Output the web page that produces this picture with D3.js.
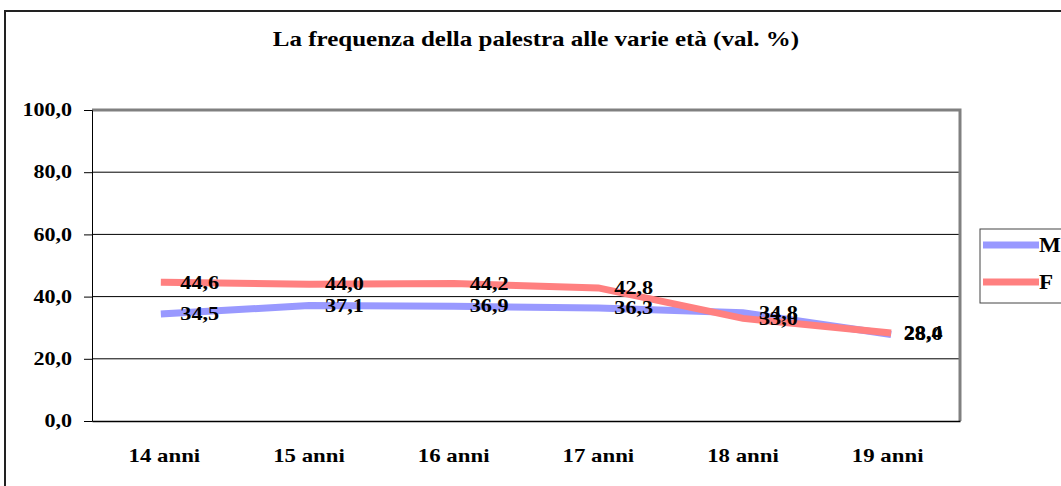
<!DOCTYPE html>
<html>
<head>
<meta charset="utf-8">
<script src="https://cdn.jsdelivr.net/npm/d3@7"></script>
<style>
    body { margin: 0; background: #fff; }
</style>
</head>
<body>
<div id="chart"></div>
<script>
const categories = ['14 anni', '15 anni', '16 anni', '17 anni', '18 anni', '19 anni'];
const maschi = [34.5, 37.1, 36.9, 36.3, 34.8, 28.0];
const femmine = [44.6, 44.0, 44.2, 42.8, 33.0, 28.4];
const yTicks = [0, 20, 40, 60, 80, 100];
const seriesNames = ['M', 'F'];
const seriesColors = ['#9999ff', '#ff8080'];

const width = 1061, height = 486;
const plot = { left: 92, right: 960, top: 110, bottom: 421 };
const font = "'Liberation Serif', 'DejaVu Serif', serif";
const fmt = v => d3.format('.1f')(v).replace('.', ',');

// widen the serif a bit, the original font is broader
function stretch(sel, k) {
    sel.each(function () {
        const len = this.getComputedTextLength();
        d3.select(this).attr('textLength', len * k).attr('lengthAdjust', 'spacingAndGlyphs');
    });
}

function styleText(sel, size) {
    sel.attr('font-family', font)
        .attr('font-weight', 'bold')
        .attr('font-size', size)
        .attr('fill', '#000');
}

const svg = d3.select('#chart').append('svg')
    .attr('width', width)
    .attr('height', height)
    .attr('font-family', font);

// outer frame
svg.append('rect')
    .attr('x', 5).attr('y', 11)
    .attr('width', 1070).attr('height', 490)
    .attr('fill', 'none')
    .attr('stroke', '#222')
    .attr('stroke-width', 2);

svg.append('text')
    .attr('x', 536).attr('y', 46)
    .attr('text-anchor', 'middle')
    .call(styleText, 21)
    .text('La frequenza della palestra alle varie età (val. %)')
    .call(stretch, 1.19);

const x = d3.scaleBand().domain(categories).range([plot.left, plot.right]);
const y = d3.scaleLinear().domain([0, 100]).range([plot.bottom, plot.top]);

// gridlines
svg.append('g').selectAll('line')
    .data(yTicks.filter(d => d > 0 && d < 100))
    .enter().append('line')
    .attr('x1', plot.left).attr('x2', plot.right)
    .attr('y1', d => y(d)).attr('y2', d => y(d))
    .attr('stroke', '#000').attr('stroke-width', 1);

// gray top/right border of plot area
svg.append('path')
    .attr('d', `M${plot.left},${plot.top}H${plot.right}V${plot.bottom}`)
    .attr('fill', 'none')
    .attr('stroke', '#808080')
    .attr('stroke-width', 3);

// y axis
const yAxis = svg.append('g')
    .attr('transform', `translate(${plot.left},0)`)
    .call(d3.axisLeft(y).tickValues(yTicks).tickSize(8).tickPadding(12).tickFormat(fmt));
yAxis.attr('font-family', font);
yAxis.select('.domain').attr('stroke', '#000');
yAxis.selectAll('.tick line').attr('stroke', '#000');
yAxis.selectAll('.tick text')
    .call(styleText, 19)
    .attr('dy', '0.3em')
    .call(stretch, 1.16);

// x axis
const xAxis = svg.append('g')
    .attr('transform', `translate(0,${plot.bottom})`)
    .call(d3.axisBottom(x).tickSize(0).tickPadding(27));
xAxis.attr('font-family', font);
xAxis.select('.domain').attr('stroke', '#000').attr('stroke-width', 1.5);
xAxis.selectAll('.tick text')
    .call(styleText, 19.5)
    .call(stretch, 1.17);

const line = d3.line()
    .x((d, i) => x(categories[i]) + x.bandwidth() / 2)
    .y(d => y(d));

const series = [maschi, femmine];

series.forEach((vals, s) => {
    svg.append('path')
        .datum(vals)
        .attr('d', line)
        .attr('fill', 'none')
        .attr('stroke', seriesColors[s])
        .attr('stroke-width', 7)
        .attr('stroke-linecap', 'square');
});

series.forEach((vals) => {
    svg.append('g').selectAll('text')
        .data(vals)
        .enter().append('text')
        .attr('x', (d, i) => x(categories[i]) + x.bandwidth() / 2 + 16)
        .attr('y', d => y(d))
        .attr('dy', '0.32em')
        .call(styleText, 19.5)
        .text(fmt)
        .call(stretch, 1.14);
});

// legend
const legend = svg.append('g');
legend.append('rect')
    .attr('x', 980).attr('y', 229)
    .attr('width', 100).attr('height', 74)
    .attr('fill', '#fff')
    .attr('stroke', '#444')
    .attr('stroke-width', 1);
seriesNames.forEach((name, i) => {
    const ly = 245 + i * 37;
    legend.append('line')
        .attr('x1', 983).attr('x2', 1039)
        .attr('y1', ly).attr('y2', ly)
        .attr('stroke', seriesColors[i])
        .attr('stroke-width', 7);
    legend.append('text')
        .attr('x', 1039).attr('y', ly)
        .attr('dy', '0.35em')
        .call(styleText, 21)
        .text(name)
        .call(stretch, 1.1);
});
</script>
</body>
</html>
